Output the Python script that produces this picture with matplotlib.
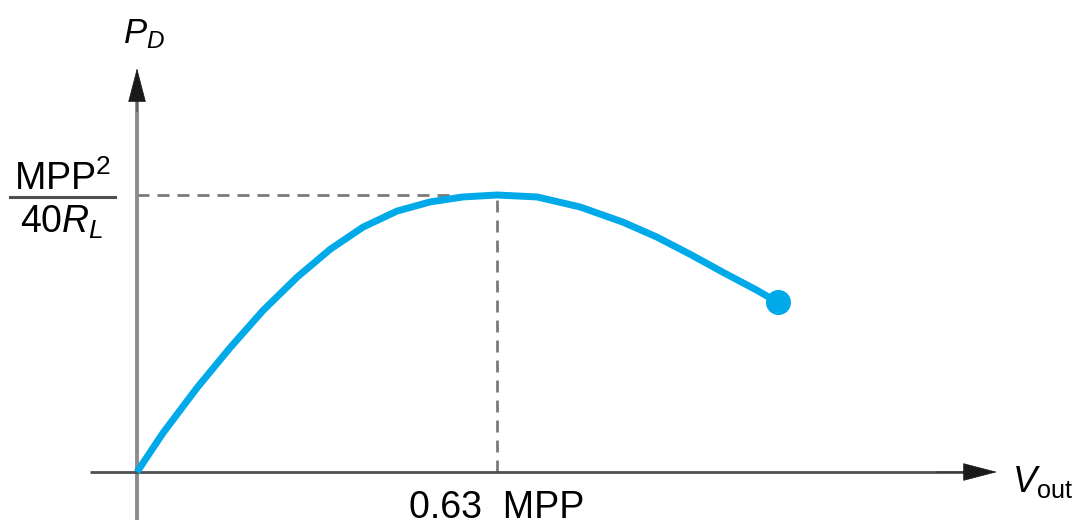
import numpy as np
import matplotlib.pyplot as plt

plt.rcParams['font.family'] = ['Liberation Sans', 'DejaVu Sans']
plt.rcParams['mathtext.fontset'] = 'custom'
plt.rcParams['mathtext.rm'] = 'Liberation Sans'
plt.rcParams['mathtext.it'] = 'Liberation Sans:italic'

# ========== 数据：横轴单位 MPP，纵轴单位 MPP^2/(40 R_L) ==========
v_out = [0.0, 0.0455, 0.105, 0.163, 0.2205, 0.280, 0.338, 0.3955, 0.455,
         0.513, 0.5705, 0.630, 0.700, 0.775, 0.8505, 0.910, 0.968, 1.0255,
         1.085, 1.122]
p_d = [0.0, 0.141, 0.304, 0.449, 0.583, 0.703, 0.804, 0.884, 0.942,
       0.975, 0.993, 1.000, 0.993, 0.957, 0.902, 0.848, 0.786, 0.721,
       0.656, 0.612]
v_peak = 0.63
p_peak = 1.0

CURVE = '#00aae8'

fig = plt.figure(figsize=(10.84, 5.25), dpi=100)
ax = fig.add_axes([0, 0, 1, 1])
ax.set_xlim(-0.2398, 1.6573)
ax.set_ylim(-0.1913, 1.704)
ax.axis('off')

# 坐标轴
ax.plot([0, 0], [-0.173, 1.40], color='#8c8c8c', lw=2.8, solid_capstyle='butt', zorder=2)
ax.plot([-0.082, 1.45], [0, 0], color='#505050', lw=2.0, solid_capstyle='butt', zorder=2)
ax.annotate('', xy=(0, 1.458), xytext=(0, 1.30),
            arrowprops=dict(arrowstyle='-|>,head_length=1.15,head_width=0.3',
                            mutation_scale=20, color='#1a1a1a', lw=0.5,
                            shrinkA=0, shrinkB=0), zorder=3)
ax.annotate('', xy=(1.505, 0), xytext=(1.40, 0),
            arrowprops=dict(arrowstyle='-|>,head_length=1.15,head_width=0.3',
                            mutation_scale=20, color='#1a1a1a', lw=0.5,
                            shrinkA=0, shrinkB=0), zorder=3)

# 虚线
ax.plot([0, v_peak], [p_peak, p_peak], color='#7a7a7a', lw=2.0,
        dashes=(4.3, 2.9), zorder=1)
ax.plot([v_peak, v_peak], [0, p_peak], color='#7a7a7a', lw=2.0,
        dashes=(4.3, 2.9), zorder=1)

# 曲线 + 端点
ax.plot(v_out, p_d, color=CURVE, lw=5, solid_capstyle='butt',
        solid_joinstyle='round', zorder=4)
ax.plot(v_out[-1], p_d[-1], 'o', color=CURVE, markersize=17, zorder=5)

# 文字
ax.text(0.012, 1.549, r'$P_D$', fontsize=25, ha='center', va='baseline')
ax.text(-0.131, 1.018, r'MPP$^2$', fontsize=27, ha='center', va='baseline')
ax.plot([-0.222, -0.0385], [0.993, 0.993], color='#505050', lw=2.2)
ax.text(-0.131, 0.863, r'$40R_L$', fontsize=27, ha='center', va='baseline')
ax.text(v_peak, -0.166, '0.63  MPP', fontsize=27, ha='center', va='baseline')
ax.text(1.531, -0.072, r'$V_{\mathrm{out}}$', fontsize=26, ha='left', va='baseline')

fig.savefig('out.png', dpi=100)
